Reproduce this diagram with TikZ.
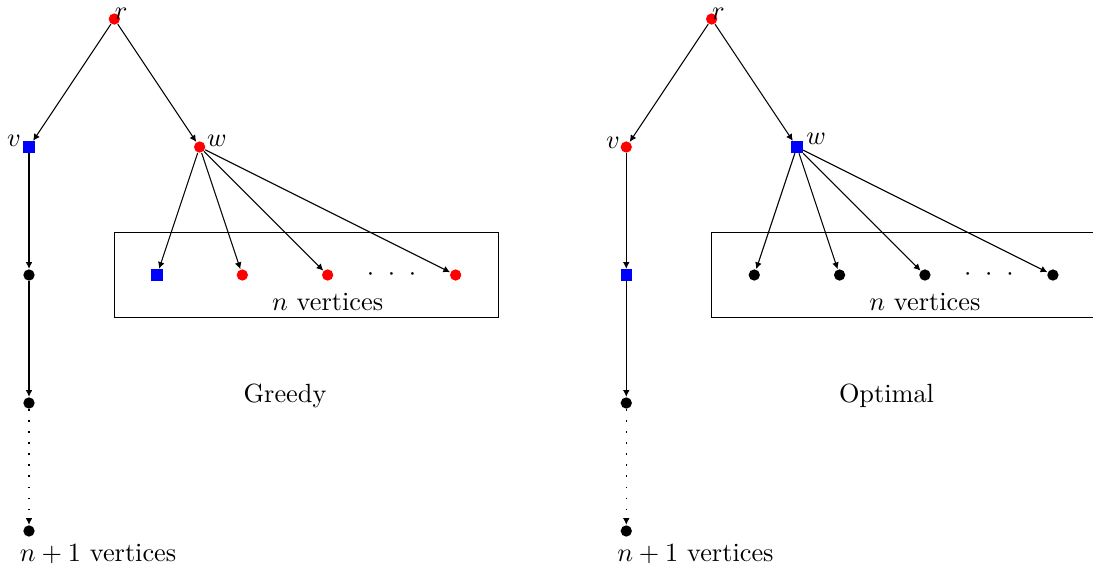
\documentclass[tikz,border=0pt]{standalone}
\usepackage{amsmath,amssymb}
\usetikzlibrary{arrows.meta,positioning,fit}
\tikzset{
  vtx/.style={inner sep=0pt, minimum size=4.3pt},
  redv/.style={vtx, circle, fill=red},
  bluev/.style={vtx, rectangle, fill=blue},
  blackv/.style={vtx, circle, fill=black},
  arr/.style={-{Latex[length=0.9mm,width=0.9mm]}},
  sparse/.style={dash pattern=on 0.7pt off 3.5pt},
  frame/.style={draw, inner sep=0pt},
  lbl/.style={inner sep=0pt}
}
\begin{document}
\begin{tikzpicture}[x=1.14cm, y=1.14cm]
\useasboundingbox (-0.34,0.223) rectangle (12.47,-6.39);

% Greedy
\node[redv, label={[lbl, xshift=2.6pt, yshift=-2.6pt]above:$r$}] (r1) at (1,0) {};
\node[bluev, label={[lbl, xshift=-0.6pt, yshift=-2.5pt]above left:$v$}] (v1) at (0,-1.5) {};
\node[redv, label={[lbl, xshift=1pt, yshift=-1.5pt]above right:$w$}] (w1) at (2,-1.5) {};
\node[blackv] (a1) at (0,-3) {};
\node[blackv] (a2) at (0,-4.5) {};
\node[blackv] (a3) at (0,-6) {};
\node[bluev] (b1) at (1.5,-3) {};
\node[redv] (b2) at (2.5,-3) {};
\node[redv] (b3) at (3.5,-3) {};
\node[lbl] (dots1) at (4.25,-3) {$\cdot\hspace{3pt}\cdot\hspace{3pt}\cdot$};
\node[redv] (b4) at (5,-3) {};
\node[frame, fit={(1,-2.5)(5.5,-3.5)}] (box1) {};
\node[anchor=base] (n1) at (3.5,-3.42) {$n$ vertices};
\node (g1) at (3,-4.42) {Greedy};
\node (m1) at (0.81,-6.27) {$n+1$ vertices};

\draw[arr] (r1) -- (v1); \draw[arr] (r1) -- (w1);
\draw[arr] (v1) -- (a1); \draw[arr] (a1) -- (a2);
\draw[arr, sparse] (a2) -- (a3);
\draw[arr] (w1) -- (b1); \draw[arr] (w1) -- (b2);
\draw[arr] (w1) -- (b3); \draw[arr] (w1) -- (b4);

% Optimal
\node[redv, label={[lbl, xshift=2.6pt, yshift=-2.6pt]above:$r$}] (r2) at (8,0) {};
\node[redv, label={[lbl, xshift=-0.6pt, yshift=-2.5pt]above left:$v$}] (v2) at (7,-1.5) {};
\node[bluev, label={[lbl, xshift=1pt, yshift=-1.5pt]above right:$w$}] (w2) at (9,-1.5) {};
\node[bluev] (c1) at (7,-3) {};
\node[blackv] (c2) at (7,-4.5) {};
\node[blackv] (c3) at (7,-6) {};
\node[blackv] (d1) at (8.5,-3) {};
\node[blackv] (d2) at (9.5,-3) {};
\node[blackv] (d3) at (10.5,-3) {};
\node[lbl] (dots2) at (11.25,-3) {$\cdot\hspace{3pt}\cdot\hspace{3pt}\cdot$};
\node[blackv] (d4) at (12,-3) {};
\node[frame, fit={(8,-2.5)(12.5,-3.5)}] (box2) {};
\node[anchor=base] (n2) at (10.5,-3.42) {$n$ vertices};
\node (g2) at (10.05,-4.42) {Optimal};
\node (m2) at (7.81,-6.27) {$n+1$ vertices};

\draw[arr] (r2) -- (v2); \draw[arr] (r2) -- (w2);
\draw[arr] (v2) -- (c1); \draw[arr] (c1) -- (c2);
\draw[arr, sparse] (c2) -- (c3);
\draw[arr] (w2) -- (d1); \draw[arr] (w2) -- (d2);
\draw[arr] (w2) -- (d3); \draw[arr] (w2) -- (d4);
\end{tikzpicture}
\end{document}
